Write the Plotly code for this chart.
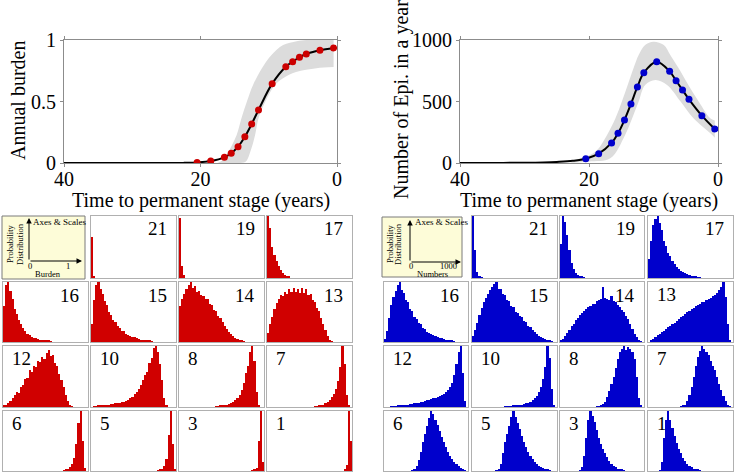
import plotly.graph_objects as go

W, H = 735, 473

# ---------------- data: top curves ----------------
times = [20.5, 18.5, 16.5, 15.5, 14.5, 13.5, 12.5, 11.5, 9.5, 7.5, 6.5, 5.5, 4.5, 2.5, 0.5]
burden_mean = [0.005, 0.016, 0.046, 0.079, 0.133, 0.214, 0.317, 0.431, 0.645, 0.783,
               0.824, 0.859, 0.886, 0.916, 0.935]
epi_mean = [35, 76, 163, 241, 350, 480, 618, 734, 824, 745, 669, 593, 518, 385, 276]

lead_t = [40, 35, 30, 27, 25, 22.5]
burden_lead = [0, 0, 0, 0, 0, 0.001]
epi_lead = [0, 0.5, 2, 5, 9, 18]

burden_up_t = [17.5, 16.7, 15.9, 14.7, 14.0, 13.2, 12.3, 11.0, 9.6, 7.9, 5.9, 4.5, 0.5]
burden_up = [0.0, 0.024, 0.092, 0.228, 0.363, 0.499, 0.634, 0.77, 0.878, 0.959, 0.99, 1.0, 1.0]
burden_lo_t = [17.5, 14.5, 13.4, 12.7, 12.0, 11.5, 10.5, 9.1, 7.9, 6.0, 3.0, 0.5]
burden_lo = [0.0, 0.0, 0.01, 0.092, 0.228, 0.363, 0.499, 0.634, 0.69, 0.74, 0.77, 0.78]

epi_up_t = [23.0, 21.3, 19.0, 17.2, 15.9, 14.9, 14.0, 13.1, 12.3, 11.3, 10.0, 8.4, 7.4, 6.1, 4.6, 3.0, 1.2, 0.5]
epi_up = [0, 38, 92, 228, 363, 499, 634, 770, 878, 959, 986, 959, 878, 770, 634, 499, 363, 345]
epi_lo_t = [23.0, 20.0, 16.7, 14.4, 13.3, 12.3, 11.3, 9.7, 7.9, 5.8, 3.8, 0.9, 0.5]
epi_lo = [0, 12, 38, 228, 363, 499, 634, 675, 634, 499, 363, 228, 205]

# ---------------- data: histograms (start bin, relative heights), 40 bins ----------------
n_bins = 40
hist_burden = {
    21: (0, [0.66, 0.03]),
    19: (0, [0.96, 0.2, 0.05]),
    17: (0, [1.0, 0.8, 0.5, 0.37, 0.28, 0.2, 0.13, 0.08, 0.05, 0.03, 0.02]),
    16: (0, [0.6, 0.95, 1.0, 0.85, 0.72, 0.55, 0.47, 0.36, 0.3, 0.23, 0.19, 0.14, 0.12, 0.09,
             0.07, 0.06, 0.05, 0.04, 0.03, 0.03, 0.02, 0.02, 0.01]),
    15: (0, [0.3, 0.7, 0.95, 1.0, 0.88, 0.8, 0.68, 0.62, 0.5, 0.45, 0.36, 0.33, 0.27, 0.24, 0.19,
             0.18, 0.14, 0.12, 0.1, 0.09, 0.08, 0.07, 0.05, 0.04, 0.03, 0.03, 0.02, 0.02, 0.01]),
    14: (0, [0.6, 0.72, 0.8, 0.88, 0.95, 1.0, 0.9, 0.93, 0.84, 0.85, 0.78, 0.77, 0.71, 0.72, 0.64,
             0.61, 0.53, 0.51, 0.44, 0.4, 0.33, 0.27, 0.22, 0.17, 0.13, 0.1, 0.07, 0.05, 0.03, 0.02, 0.01]),
    13: (0, [0.15, 0.3, 0.42, 0.55, 0.65, 0.72, 0.78, 0.76, 0.84, 0.8, 0.88, 0.83, 0.9, 0.84, 0.89,
             0.82, 0.9, 0.81, 0.88, 0.78, 0.8, 0.7, 0.67, 0.56, 0.52, 0.4, 0.3, 0.2, 0.1, 0.04, 0.01]),
    12: (0, [0.02, 0.04, 0.07, 0.1, 0.15, 0.2, 0.25, 0.23, 0.33, 0.36, 0.46, 0.48, 0.6, 0.58, 0.68,
             0.66, 0.76, 0.74, 0.82, 0.79, 0.88, 0.93, 0.84, 0.86, 0.72, 0.68, 0.54, 0.45, 0.32, 0.2,
             0.1, 0.04, 0.01]),
    10: (1, [0.01, 0.01, 0.02, 0.02, 0.03, 0.03, 0.04, 0.04, 0.05, 0.05, 0.06, 0.06, 0.07, 0.08,
             0.09, 0.1, 0.12, 0.14, 0.17, 0.21, 0.25, 0.3, 0.36, 0.44, 0.52, 0.58, 0.72, 0.8, 0.97,
             1.0, 0.9, 0.7, 0.45, 0.15, 0.03]),
    8: (17, [0.01, 0.01, 0.02, 0.02, 0.03, 0.04, 0.05, 0.06, 0.08, 0.11, 0.15, 0.2, 0.28, 0.4,
             0.55, 0.68, 0.9, 1.0, 0.75, 0.25, 0.03]),
    7: (22, [0.01, 0.01, 0.02, 0.03, 0.04, 0.06, 0.09, 0.12, 0.16, 0.22, 0.3, 0.42, 0.65, 1.0,
             0.7, 0.2, 0.02]),
    6: (28, [0.01, 0.02, 0.04, 0.07, 0.12, 0.22, 0.45, 0.8, 1.0, 0.5, 0.05]),
    5: (31, [0.01, 0.02, 0.04, 0.08, 0.2, 0.6, 1.0, 0.45, 0.03]),
    3: (34, [0.01, 0.02, 0.05, 0.5, 1.0, 0.15]),
    1: (36, [0.02, 0.1, 1.0, 0.5]),
}
hist_epi = {
    21: (0, [1.0, 0.45, 0.1, 0.03, 0.01]),
    19: (0, [0.55, 1.0, 0.9, 0.7, 0.45, 0.25, 0.14, 0.08, 0.05, 0.03, 0.02, 0.01]),
    17: (0, [0.3, 0.6, 0.85, 0.95, 1.0, 0.88, 0.77, 0.6, 0.52, 0.4, 0.35, 0.27, 0.22, 0.18,
             0.15, 0.12, 0.1, 0.08, 0.06, 0.05, 0.04, 0.03, 0.02, 0.015, 0.01]),
    16: (0, [0.05, 0.18, 0.4, 0.62, 0.75, 0.85, 0.95, 1.0, 0.86, 0.82, 0.7, 0.66, 0.55, 0.52,
             0.42, 0.39, 0.32, 0.3, 0.24, 0.22, 0.17, 0.15, 0.13, 0.11, 0.1, 0.08, 0.07, 0.06,
             0.05, 0.04, 0.03, 0.02, 0.02, 0.01]),
    15: (0, [0.1, 0.2, 0.32, 0.45, 0.57, 0.66, 0.74, 0.8, 0.86, 0.92, 0.97, 1.0, 0.88, 0.88,
             0.8, 0.78, 0.7, 0.69, 0.6, 0.59, 0.5, 0.49, 0.43, 0.41, 0.35, 0.33, 0.27, 0.25,
             0.2, 0.16, 0.13, 0.1, 0.08, 0.06, 0.05, 0.04, 0.02, 0.01]),
    14: (0, [0.02, 0.05, 0.1, 0.15, 0.2, 0.26, 0.3, 0.36, 0.4, 0.45, 0.48, 0.52, 0.55, 0.58,
             0.6, 0.64, 0.63, 0.68, 0.7, 0.72, 0.92, 0.73, 0.72, 0.7, 0.76, 0.68, 0.66, 0.62,
             0.58, 0.54, 0.5, 0.44, 0.38, 0.3, 0.22, 0.14, 0.08, 0.03, 0.01]),
    13: (1, [0.02, 0.05, 0.08, 0.11, 0.14, 0.17, 0.19, 0.22, 0.25, 0.27, 0.3, 0.32, 0.35, 0.38,
             0.42, 0.44, 0.47, 0.5, 0.52, 0.55, 0.57, 0.6, 0.61, 0.64, 0.66, 0.67, 0.7, 0.72,
             0.74, 0.76, 0.78, 0.82, 0.86, 0.92, 1.0, 0.75, 0.3, 0.03]),
    12: (3, [0.005, 0.01, 0.01, 0.02, 0.02, 0.03, 0.03, 0.04, 0.04, 0.05, 0.05, 0.06, 0.06,
             0.07, 0.08, 0.09, 0.1, 0.11, 0.12, 0.13, 0.14, 0.15, 0.17, 0.18, 0.2, 0.22, 0.25,
             0.28, 0.32, 0.4, 0.52, 0.7, 0.9, 1.0, 0.55, 0.1]),
    10: (15, [0.005, 0.01, 0.01, 0.015, 0.02, 0.025, 0.03, 0.035, 0.04, 0.05, 0.06, 0.07, 0.09,
              0.11, 0.14, 0.18, 0.24, 0.33, 0.46, 0.65, 1.0, 0.8, 0.3, 0.04]),
    8: (17, [0.005, 0.01, 0.03, 0.05, 0.09, 0.16, 0.26, 0.37, 0.5, 0.64, 0.78, 0.9, 0.95, 1.0,
             0.93, 0.98, 0.95, 0.9, 0.78, 0.5, 0.15, 0.02]),
    7: (15, [0.01, 0.02, 0.04, 0.1, 0.2, 0.33, 0.5, 0.68, 0.82, 0.92, 1.0, 0.95, 0.9, 0.85,
             0.75, 0.68, 0.6, 0.5, 0.38, 0.28, 0.18, 0.1, 0.04, 0.01]),
    6: (13, [0.01, 0.03, 0.08, 0.18, 0.32, 0.48, 0.62, 0.75, 0.88, 1.0, 0.95, 0.85, 0.76, 0.66,
             0.57, 0.48, 0.4, 0.32, 0.25, 0.2, 0.15, 0.11, 0.08, 0.05, 0.03, 0.01]),
    5: (11, [0.01, 0.04, 0.12, 0.3, 0.48, 0.62, 0.75, 0.9, 1.0, 0.9, 0.8, 0.7, 0.58, 0.48, 0.4,
             0.32, 0.25, 0.2, 0.15, 0.12, 0.09, 0.07, 0.05, 0.03, 0.02, 0.01]),
    3: (9, [0.01, 0.06, 0.25, 0.55, 0.85, 1.0, 0.92, 0.82, 0.68, 0.55, 0.45, 0.37, 0.3, 0.23,
            0.17, 0.12, 0.08, 0.06, 0.04, 0.03, 0.02, 0.01]),
    1: (5, [0.01, 0.15, 0.55, 0.85, 1.0, 0.85, 0.72, 0.58, 0.46, 0.37, 0.3, 0.22, 0.16, 0.12,
            0.08, 0.06, 0.04, 0.03, 0.02, 0.01]),
}
grid_labels = [[None, 21, 19, 17], [16, 15, 14, 13], [12, 10, 8, 7], [6, 5, 3, 1]]
burden_max = 1.0
epi_max = 1000

# ---------------- layout constants (pixels) ----------------
FONT = "Liberation Serif"
RED, BLUE = "#cc0000", "#0000cc"
BAND = "#dcdcdc"
AX = "#8c8c8c"
left_cols = [(3, 88), (91, 176), (179, 264), (267, 352)]
right_cols = [(384, 468), (472, 557), (560, 644), (648, 733)]
rows = [(216, 278), (282, 342), (346, 407), (411, 471)]


def fx(p):
    return p / W


def fy(p):
    return 1 - p / H


fig = go.Figure()
layout = dict(template="none", width=W, height=H,
              margin=dict(l=0, r=0, t=0, b=0, pad=0, autoexpand=False),
              paper_bgcolor="white", plot_bgcolor="white", showlegend=False,
              bargap=0, font=dict(family=FONT, color="black"))
annotations = []
shapes = []


def main_axes(idx, xdom, ydom, yrange, yticks, yticktext):
    common = dict(showline=True, linecolor=AX, linewidth=1, mirror="ticks",
                  ticks="outside", ticklen=3, tickcolor=AX, showgrid=False,
                  zeroline=False, automargin=False,
                  tickfont=dict(family=FONT, size=20, color="black"))
    layout["xaxis%d" % idx if idx > 1 else "xaxis"] = dict(
        domain=[fx(xdom[0]), fx(xdom[1])], range=[40, 0], tickvals=[40, 20, 0],
        ticklabelstandoff=-5, anchor="y%d" % idx if idx > 1 else "y", **common)
    layout["yaxis%d" % idx if idx > 1 else "yaxis"] = dict(
        domain=[fy(ydom[1]), fy(ydom[0])], range=yrange, tickvals=yticks,
        ticktext=yticktext, anchor="x%d" % idx if idx > 1 else "x", **common)


def add_band_curve(idx, up_t, up, lo_t, lo, mean, lead, col):
    xa = "x" if idx == 1 else "x%d" % idx
    ya = "y" if idx == 1 else "y%d" % idx
    fig.add_trace(go.Scatter(x=lo_t, y=lo, mode="lines", line=dict(width=0, shape="spline"),
                             xaxis=xa, yaxis=ya, hoverinfo="skip"))
    fig.add_trace(go.Scatter(x=up_t, y=up, mode="lines", line=dict(width=0, shape="spline"),
                             fill="tonexty", fillcolor=BAND, xaxis=xa, yaxis=ya, hoverinfo="skip"))
    fig.add_trace(go.Scatter(x=lead_t + times, y=lead + mean, mode="lines",
                             line=dict(color="black", width=2, shape="spline"),
                             xaxis=xa, yaxis=ya))
    fig.add_trace(go.Scatter(x=times, y=mean, mode="markers",
                             marker=dict(color=col, size=7), xaxis=xa, yaxis=ya))


# top-left
main_axes(1, (64, 337), (40, 163), [0, 1], [0, 0.5, 1], ["0", "0.5", "1"])
add_band_curve(1, burden_up_t, burden_up, burden_lo_t, burden_lo, burden_mean, burden_lead, RED)
# top-right
main_axes(2, (460, 718), (40, 163), [0, 1000], [0, 500, 1000], ["0", "500", "1000"])
add_band_curve(2, epi_up_t, epi_up, epi_lo_t, epi_lo, epi_mean, epi_lead, BLUE)

annotations += [
    dict(text="Annual burden", x=fx(18), y=fy(101), textangle=-90, font=dict(size=20)),
    dict(text="Time to permanent stage (years)", x=fx(201), y=fy(201), font=dict(size=20)),
    dict(text="Number of Epi. in a year", x=fx(402), y=fy(100), textangle=-90, font=dict(size=20)),
    dict(text="Time to permanent stage (years)", x=fx(589), y=fy(201), font=dict(size=20)),
]

# histograms
ax_idx = 3
for side in range(2):
    cols = left_cols if side == 0 else right_cols
    hist = hist_burden if side == 0 else hist_epi
    xmax = burden_max if side == 0 else epi_max
    color = "#d00000" if side == 0 else "#0000cc"
    bw = xmax / n_bins
    for r, row_labels in enumerate(grid_labels):
        for c, lab in enumerate(row_labels):
            if lab is None:
                continue
            start, vals = hist[lab]
            heights = [0.0] * n_bins
            for k, v in enumerate(vals):
                heights[start + k] = v
            centers = [(k + 0.5) * bw for k in range(n_bins)]
            xa, ya = "x%d" % ax_idx, "y%d" % ax_idx
            fig.add_trace(go.Bar(x=centers, y=heights, width=bw, xaxis=xa, yaxis=ya,
                                 marker=dict(color=color, line=dict(width=0))))
            x0, x1 = cols[c]
            y0, y1 = rows[r]
            axcommon = dict(showline=True, linecolor="#b0b0b0", linewidth=1, mirror=True,
                            showticklabels=False, ticks="", showgrid=False, zeroline=False,
                            automargin=False)
            layout["xaxis%d" % ax_idx] = dict(domain=[fx(x0), fx(x1)], range=[0, xmax],
                                              anchor=ya, **axcommon)
            layout["yaxis%d" % ax_idx] = dict(domain=[fy(y1), fy(y0)], range=[0, 1.0],
                                              anchor=xa, **axcommon)
            top_left = r >= 2 or (side == 1 and lab == 13)
            if top_left:
                annotations.append(dict(text=str(lab), x=fx(x0 + 7), y=fy(y0 + 12),
                                        xanchor="left", font=dict(size=19)))
            else:
                annotations.append(dict(text=str(lab), x=fx(x1 - 7), y=fy(y0 + 13),
                                        xanchor="right", font=dict(size=19)))
            ax_idx += 1

# key boxes
keys = [
    dict(box=(2, 216, 85, 279), ox=29, oy=261, top=218, right=82, xlab="Burden",
         t0="0", t1="1", t1x=68, labx=48, pd=(10, 20), title_x=59),
    dict(box=(382, 217, 462, 277), ox=410, oy=262, top=220, right=461, xlab="Numbers",
         t0="0", t1="1000", t1x=448, labx=432, pd=(390, 398), title_x=441),
]
for k in keys:
    bx0, by0, bx1, by1 = k["box"]
    shapes.append(dict(type="rect", xref="paper", yref="paper", x0=fx(bx0), x1=fx(bx1),
                       y0=fy(by1), y1=fy(by0), fillcolor="#fdfcd8",
                       line=dict(color="#7a7a7a", width=1), layer="above"))
    annotations.append(dict(text="", x=fx(k["ox"]), y=fy(k["top"]), ax=0, ay=k["oy"] - k["top"],
                            showarrow=True, arrowhead=2, arrowsize=1.1, arrowwidth=1,
                            arrowcolor="black"))
    annotations.append(dict(text="", x=fx(k["right"]), y=fy(k["oy"]), ax=k["ox"] - k["right"], ay=0,
                            showarrow=True, arrowhead=2, arrowsize=1.1, arrowwidth=1,
                            arrowcolor="black"))
    annotations.append(dict(text="Axes &amp; Scales", x=fx(k["title_x"]), y=fy(222),
                            font=dict(size=9)))
    annotations.append(dict(text="Probability", x=fx(k["pd"][0]), y=fy(244), textangle=-90,
                            font=dict(size=8.5)))
    annotations.append(dict(text="Distribution", x=fx(k["pd"][1]), y=fy(244), textangle=-90,
                            font=dict(size=8.5)))
    annotations.append(dict(text=k["t0"], x=fx(k["ox"] + 1), y=fy(266), font=dict(size=8.5)))
    annotations.append(dict(text=k["t1"], x=fx(k["t1x"]), y=fy(266), font=dict(size=8.5)))
    annotations.append(dict(text=k["xlab"], x=fx(k["labx"]), y=fy(274), font=dict(size=8.5)))

for a in annotations:
    a.setdefault("xref", "paper")
    a.setdefault("yref", "paper")
    a.setdefault("showarrow", False)
    a.setdefault("xanchor", "center")
    a.setdefault("yanchor", "middle")
    f = a.setdefault("font", {})
    f.setdefault("family", FONT)
    f.setdefault("color", "black")

layout["annotations"] = annotations
layout["shapes"] = shapes
fig.update_layout(**layout)
fig.write_html("out.html", config={"responsive": False, "displayModeBar": False},
               post_script="document.body.style.margin='0px';document.body.style.padding='0px';")
